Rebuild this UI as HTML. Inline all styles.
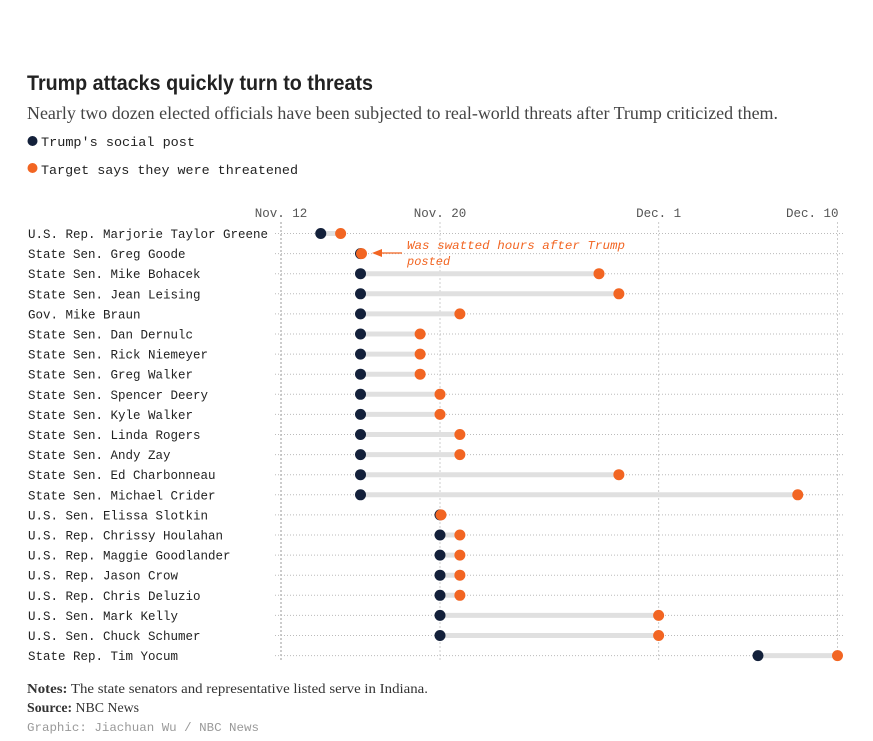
<!DOCTYPE html>
<html><head><meta charset="utf-8"><style>
body{margin:0;background:#fff;}
svg{display:block;}
</style></head><body>
<svg id="chart" width="873" height="741" xmlns="http://www.w3.org/2000/svg">
<text x="27" y="90" font-family="Liberation Sans, sans-serif" font-weight="bold" font-size="21" fill="#222" textLength="346" lengthAdjust="spacingAndGlyphs">Trump attacks quickly turn to threats</text>
<text x="27" y="119" font-family="Liberation Serif, serif" font-size="18" fill="#444" textLength="751" lengthAdjust="spacingAndGlyphs">Nearly two dozen elected officials have been subjected to real-world threats after Trump criticized them.</text>
<circle cx="32.5" cy="141" r="5" fill="#13203a"/>
<text x="41" y="146" font-family="Liberation Mono, monospace" font-size="12.5" fill="#222" textLength="154" lengthAdjust="spacingAndGlyphs">Trump's social post</text>
<circle cx="32.5" cy="168" r="5" fill="#f26522"/>
<text x="41" y="174" font-family="Liberation Mono, monospace" font-size="12.5" fill="#222" textLength="257" lengthAdjust="spacingAndGlyphs">Target says they were threatened</text>
<g id="plot"></g>
<text x="407" y="249" font-family="Liberation Mono, monospace" font-style="italic" font-size="12" fill="#f26522" textLength="218" lengthAdjust="spacingAndGlyphs">Was swatted hours after Trump</text>
<text x="407" y="265" font-family="Liberation Mono, monospace" font-style="italic" font-size="12" fill="#f26522">posted</text>
<line x1="402" y1="253" x2="380" y2="253" stroke="#f26522" stroke-width="1.2"/>
<polygon points="372,253 382,249 382,257" fill="#f26522"/>
<text x="27" y="693" font-family="Liberation Serif, serif" font-size="14" fill="#333" textLength="401" lengthAdjust="spacingAndGlyphs"><tspan font-weight="bold">Notes:</tspan> The state senators and representative listed serve in Indiana.</text>
<text x="27" y="712" font-family="Liberation Serif, serif" font-size="14" fill="#333" textLength="112" lengthAdjust="spacingAndGlyphs"><tspan font-weight="bold">Source:</tspan> NBC News</text>
<text x="27" y="731" font-family="Liberation Mono, monospace" font-size="12" fill="#999" textLength="232" lengthAdjust="spacingAndGlyphs">Graphic: Jiachuan Wu / NBC News</text>
</svg>
<script>
const names=["U.S. Rep. Marjorie Taylor Greene","State Sen. Greg Goode","State Sen. Mike Bohacek","State Sen. Jean Leising","Gov. Mike Braun","State Sen. Dan Dernulc","State Sen. Rick Niemeyer","State Sen. Greg Walker","State Sen. Spencer Deery","State Sen. Kyle Walker","State Sen. Linda Rogers","State Sen. Andy Zay","State Sen. Ed Charbonneau","State Sen. Michael Crider","U.S. Sen. Elissa Slotkin","U.S. Rep. Chrissy Houlahan","U.S. Rep. Maggie Goodlander","U.S. Rep. Jason Crow","U.S. Rep. Chris Deluzio","U.S. Sen. Mark Kelly","U.S. Sen. Chuck Schumer","State Rep. Tim Yocum"];
// days after Nov. 12
const postDay=[2,4,4,4,4,4,4,4,4,4,4,4,4,4,8,8,8,8,8,8,8,24];
const threatDay=[3,4,16,17,9,7,7,7,8,8,9,9,17,26,8,9,9,9,9,19,19,28];
const tickDays=[0,8,19,28];
const tickLabels=["Nov. 12","Nov. 20","Dec. 1","Dec. 10"];
const x=d=>281+d*19.875;
const y=i=>233.5+i*20.1;
const g=document.getElementById('plot');
const NS="http://www.w3.org/2000/svg";
function mk(t,a){const e=document.createElementNS(NS,t);for(const k in a)e.setAttribute(k,a[k]);g.appendChild(e);return e;}
tickDays.forEach((d,i)=>{
 const l=mk('line',{x1:x(d),x2:x(d),y1:222,y2:662,stroke:i==0?'#bbb':'#ccc','stroke-width':i==0?1.5:1,'stroke-dasharray':'2,2'});
 
 
 const last=i==tickDays.length-1;
 const t=mk('text',{x:last?x(d)+1:x(d),y:217,'text-anchor':last?'end':'middle','font-family':'Liberation Mono, monospace','font-size':12.5,fill:'#555'});
 t.textContent=tickLabels[i];
 
 
});
names.forEach((n,i)=>{
 const yy=y(i);
 const t=mk('text',{x:28,y:yy+4.5,'font-family':'Liberation Mono, monospace','font-size':12.5,fill:'#222'});
 t.textContent=n;
 
 
 const gl=mk('line',{x1:275,x2:843,y1:yy,y2:yy,stroke:'#bbb','stroke-width':1,'stroke-dasharray':'1,2'});
 
 
 const b=mk('line',{x1:x(postDay[i]),x2:x(threatDay[i]),y1:yy,y2:yy,stroke:'#e0e0e0','stroke-width':5});
 
 
 const p=mk('circle',{cx:x(postDay[i]),cy:yy,r:5.5,fill:'#13203a'});
 
 
 const th=mk('circle',{cx:x(threatDay[i])+(threatDay[i]==postDay[i]?1:0),cy:yy,r:5.5,fill:'#f26522'});
 
 
});
</script>
</body></html>
